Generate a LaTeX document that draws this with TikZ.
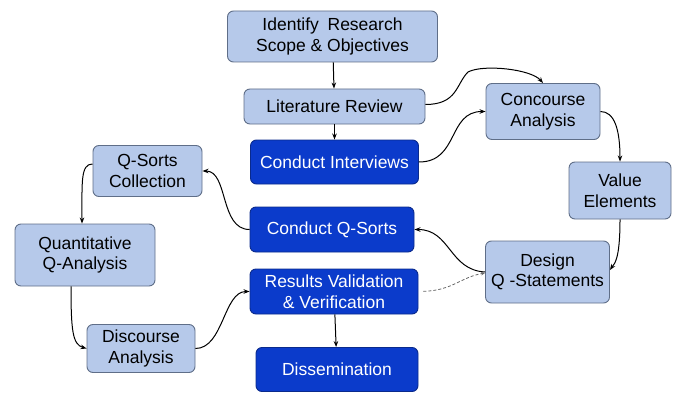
\documentclass[tikz,border=0pt]{standalone}
\usepackage{fontspec}
\setmainfont{Liberation Sans}
\usetikzlibrary{arrows.meta}

\definecolor{lightfill}{HTML}{B6C9EA}
\definecolor{lightline}{HTML}{5F6E88}
\definecolor{darkfill}{HTML}{0B3BCB}
\definecolor{darkline}{HTML}{0A2A8C}

\tikzset{
  box/.style={rounded corners=6pt, line width=0.9pt, align=center, inner sep=0pt,
    font=\fontsize{17.5}{20.5}\selectfont},
  lbox/.style={box, fill=lightfill, draw=lightline, text=black},
  dbox/.style={box, fill=darkfill, draw=darkline, text=white},
  arr/.style={line width=1pt, -{Stealth[length=6pt,width=4.5pt]}},
  dasharr/.style={line width=0.8pt, densely dashed, draw=gray!80!black,
    -{Stealth[length=4pt,width=3.5pt,open]}}
}

\begin{document}
\begin{tikzpicture}[x=1pt, y=-1pt]
\useasboundingbox (0,0) rectangle (676,393);

% process boxes
\node[lbox, minimum width=210pt, minimum height=51pt] (ident) at (332.5,36.5) {Identify\enspace Research\\Scope \& Objectives};
\node[lbox, minimum width=181pt, minimum height=35pt] (lit)   at (334.5,106.5) {Literature Review};
\node[dbox, minimum width=168pt, minimum height=44pt] (intv)  at (334.5,162) {Conduct Interviews};
\node[lbox, minimum width=114pt, minimum height=56pt] (conc)  at (543,111.5) {Concourse\\Analysis};
\node[lbox, minimum width=102pt, minimum height=57pt] (val)   at (620,190.5) {Value\\Elements};
\node[lbox, minimum width=124pt, minimum height=62pt] (des)   at (547.5,272) {Design\\Q -Statements};
\node[dbox, minimum width=164pt, minimum height=45pt] (qsort) at (332,229.5) {Conduct Q-Sorts};
\node[dbox, minimum width=168pt, minimum height=45pt] (res)   at (334,291.5) {Results Validation\\\& Verification};
\node[dbox, minimum width=162pt, minimum height=44pt] (diss)  at (337,369.5) {Dissemination};
\node[lbox, minimum width=109pt, minimum height=51pt] (coll)  at (147.5,171) {Q-Sorts\\Collection};
\node[lbox, minimum width=140pt, minimum height=62pt] (quant) at (85,255) {Quantitative\\Q-Analysis};
\node[lbox, minimum width=108pt, minimum height=48pt] (disc)  at (141,348.5) {Discourse\\Analysis};

% straight links
\draw[arr] (ident) -- (lit);
\draw[arr] (lit) -- (intv);
\draw[arr] (res) -- (diss);

% curved links
\draw[arr] ([yshift=2pt]lit.east) .. controls +(32,0) and +(-12,12) .. (468,72)
  .. controls +(15,-8) and +(-12,-14) .. (conc.north);
\draw[arr] (intv.east) .. controls +(40,0) and +(-38,0) .. (conc.west);
\draw[arr] (conc.east) .. controls +(14,0) and +(0,-32) .. (val.north);
\draw[arr] (val.south) .. controls +(0,42) and +(4,-6) .. ([yshift=2pt]des.east);
\draw[arr] (des.west) .. controls +(-36,-2) and +(36,0) .. (qsort.east);
\draw[dasharr, shorten <=5pt] (res.east) .. controls +(34,-1) and +(-24,4) .. ([yshift=-1pt]des.west);
\draw[arr] (qsort.west) .. controls +(-30,0) and +(26,0) .. (coll.east);
\draw[arr] ([yshift=7pt]coll.west) .. controls +(-12,0) and +(0,-42) .. ([xshift=-3pt]quant.north);
\draw[arr] ([xshift=-14pt]quant.south) .. controls +(0,44) and +(-14,-4) .. (disc.west);
\draw[arr] (disc.east) .. controls +(28,0) and +(-26,0) .. (res.west);
\end{tikzpicture}
\end{document}
